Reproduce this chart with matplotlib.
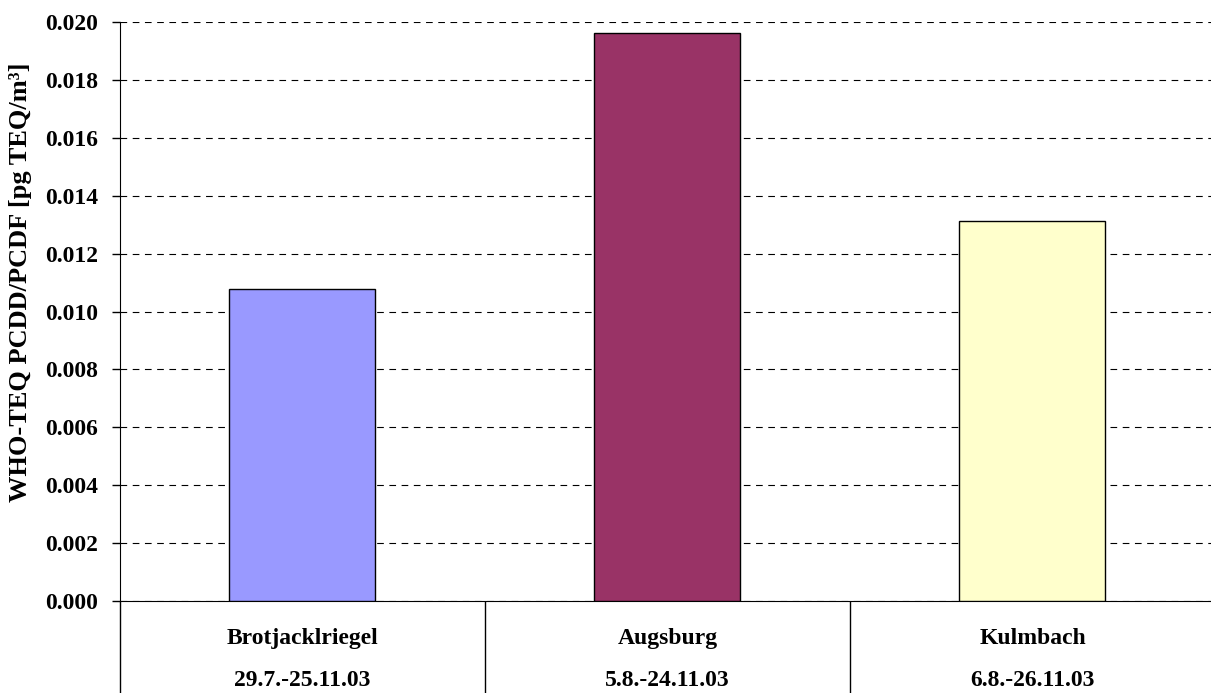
import numpy as np
import matplotlib.pyplot as plt

# data
sites = ["Brotjacklriegel", "Augsburg", "Kulmbach"]
periods = ["29.7.-25.11.03", "5.8.-24.11.03", "6.8.-26.11.03"]
teq = [0.01078, 0.01962, 0.01313]
colors = ["#9999FF", "#993366", "#FFFFCC"]
yticks = np.arange(0, 0.0201, 0.002)

plt.rcParams['font.family'] = ['Liberation Serif', 'DejaVu Serif']
plt.rcParams['font.weight'] = 'bold'

fig = plt.figure(figsize=(12.11, 6.93), dpi=100)
ax = fig.add_axes([120 / 1211, 92 / 693, 1095 / 1211, 579 / 693])

x = np.arange(len(sites))
ax.bar(x, teq, width=0.4, color=colors, edgecolor='black', linewidth=1, zorder=3)

ax.set_xlim(-0.5, len(sites) - 0.5)
ax.set_ylim(0, 0.020)
ax.set_yticks(yticks)
ax.set_yticklabels([f"{v:.3f}" for v in yticks], fontsize=17, fontweight='bold')
ax.tick_params(axis='y', direction='out', length=6, width=1, pad=10)
ax.yaxis.grid(True, linestyle=(0, (6, 5)), color='black', linewidth=0.8)
ax.set_axisbelow(True)

# category labels below, separators as long minor ticks
ax.set_xticks([])
ax.set_xticks(np.arange(-0.5, len(sites)), minor=True)
ax.tick_params(axis='x', which='minor', direction='out', length=66, width=1)
for i in range(len(sites)):
    ax.text(x[i], -0.064, sites[i], transform=ax.get_xaxis_transform(),
            ha='center', va='center', fontsize=17, fontweight='bold')
    ax.text(x[i], -0.137, periods[i], transform=ax.get_xaxis_transform(),
            ha='center', va='center', fontsize=17, fontweight='bold')

ax.spines['top'].set_visible(False)
ax.spines['right'].set_visible(False)
ax.set_ylabel("WHO-TEQ PCDD/PCDF [pg TEQ/m³]", fontsize=19, fontweight='bold')
ax.yaxis.set_label_coords(-88 / 1095, 0.551)

fig.savefig("out.png", dpi=100)
